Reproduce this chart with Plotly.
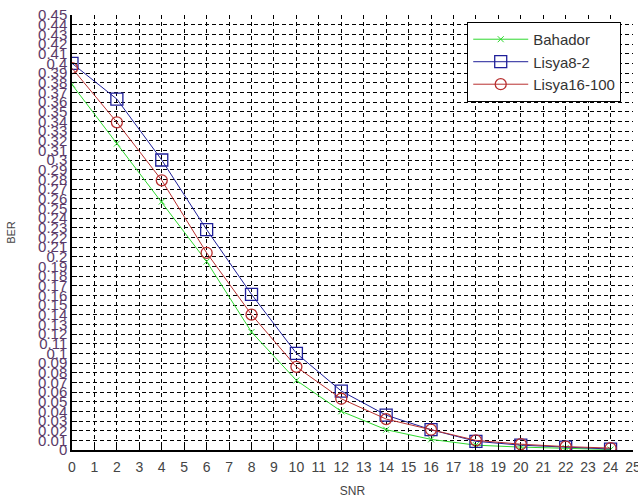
import plotly.graph_objects as go

snr = [0, 2, 4, 6, 8, 10, 12, 14, 16, 18, 20, 22, 24]
bahador = [0.378, 0.317, 0.257, 0.195, 0.122, 0.072, 0.040, 0.021, 0.011, 0.005, 0.003, 0.002, 0.0005]
lisya8_2 = [0.400, 0.363, 0.300, 0.228, 0.161, 0.100, 0.061, 0.036, 0.021, 0.009, 0.005, 0.003, 0.001]
lisya16_100 = [0.395, 0.339, 0.279, 0.204, 0.140, 0.086, 0.053, 0.032, 0.021, 0.010, 0.006, 0.0035, 0.002]

x_ticks = list(range(0, 26))
x_labels = [str(v) for v in x_ticks]
y_ticks = [i / 100 for i in range(0, 46)]
y_labels = ["0"] + [("%g" % v) for v in y_ticks[1:]]

fig = go.Figure()
fig.add_trace(go.Scatter(x=snr, y=bahador, name="Bahador", mode="lines+markers",
                         line=dict(color="#2ed82e", width=1),
                         marker=dict(symbol="x-thin-open", size=6, color="#2ed82e",
                                     line=dict(width=1, color="#2ed82e"))))
fig.add_trace(go.Scatter(x=snr, y=lisya8_2, name="Lisya8-2", mode="lines+markers",
                         line=dict(color="#1f1f99", width=1),
                         marker=dict(symbol="square-open", size=12, color="#1f1f99",
                                     line=dict(width=1.3, color="#1f1f99"))))
fig.add_trace(go.Scatter(x=snr, y=lisya16_100, name="Lisya16-100", mode="lines+markers",
                         line=dict(color="#b83030", width=1),
                         marker=dict(symbol="circle-open", size=11, color="#b83030",
                                     line=dict(width=1.3, color="#b83030"))))

fig.update_layout(
    width=638, height=502,
    margin=dict(l=72, r=5, t=15, b=52),
    paper_bgcolor="white", plot_bgcolor="white",
    font=dict(family="Arial, Liberation Sans, sans-serif", color="#444444"),
    legend=dict(x=0.979, y=0.984, xanchor="right", yanchor="top",
                bgcolor="white", bordercolor="black", borderwidth=1,
                itemwidth=55, tracegroupgap=0,
                font=dict(size=15, color="#333333")),
    xaxis=dict(range=[0, 25], tickvals=x_ticks, ticktext=x_labels,
               showgrid=True, gridcolor="black", griddash="4px,3px", gridwidth=1,
               showline=True, linecolor="black", linewidth=1.5,
               ticks="inside", ticklen=5, tickcolor="black",
               zeroline=False, tickangle=0, ticklabeloverflow="allow",
               automargin=False, ticklabelstandoff=3,
               tickfont=dict(size=14, color="#444444"),
               title=dict(text="SNR", font=dict(size=12, color="#444444"), standoff=13)),
    yaxis=dict(range=[0, 0.45], tickvals=y_ticks, ticktext=y_labels,
               showgrid=True, gridcolor="black", griddash="4px,3px", gridwidth=1,
               showline=True, linecolor="black", linewidth=1.5,
               ticks="inside", ticklen=5, tickcolor="black",
               zeroline=False, ticklabeloverflow="allow", automargin=False,
               tickfont=dict(size=15, color="#5a3a68"),
               title=dict(text="BER", font=dict(size=11, color="#444444"), standoff=20)),
)

fig.write_html("out.html", config={"displayModeBar": False},
               post_script="document.body.style.margin='0px';document.body.style.overflow='hidden';")
